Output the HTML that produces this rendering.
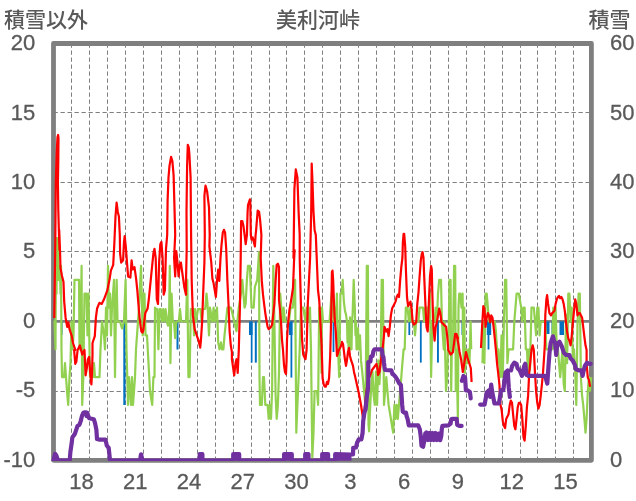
<!DOCTYPE html>
<html><head><meta charset="utf-8"><style>
html,body{margin:0;padding:0;background:#fff;}
svg{display:block;}
text{font-family:"Liberation Sans","Noto Sans CJK JP",sans-serif;font-size:21px;fill:#595959;font-weight:500;}
.n{font-size:22px;font-weight:400;stroke:#595959;stroke-width:0.3px;}
.g{stroke:#7f7f7f;stroke-width:1;stroke-dasharray:4.3 2.7;fill:none;}
.r{stroke:#FF0000;stroke-width:2.2;fill:none;stroke-linejoin:round;}
.gr{stroke:#92D050;stroke-width:2.2;fill:none;stroke-linejoin:round;}
.pu{stroke:#7030A0;stroke-width:4.2;fill:none;stroke-linejoin:round;stroke-linecap:round;}
</style></head><body>
<svg width="636" height="501" viewBox="0 0 636 501">
<defs><clipPath id="cp"><rect x="0" y="0" width="636" height="461"/></clipPath></defs>
<rect width="636" height="501" fill="#fff"/>
<line x1="53.5" y1="112.50" x2="591.4" y2="112.50" class="g"/>
<line x1="53.5" y1="182.50" x2="591.4" y2="182.50" class="g"/>
<line x1="53.5" y1="251.50" x2="591.4" y2="251.50" class="g"/>
<line x1="53.5" y1="391.50" x2="591.4" y2="391.50" class="g"/>
<line x1="71.50" y1="43.5" x2="71.50" y2="460.3" class="g"/>
<line x1="89.50" y1="43.5" x2="89.50" y2="460.3" class="g"/>
<line x1="107.50" y1="43.5" x2="107.50" y2="460.3" class="g"/>
<line x1="125.50" y1="43.5" x2="125.50" y2="460.3" class="g"/>
<line x1="143.50" y1="43.5" x2="143.50" y2="460.3" class="g"/>
<line x1="161.50" y1="43.5" x2="161.50" y2="460.3" class="g"/>
<line x1="179.50" y1="43.5" x2="179.50" y2="460.3" class="g"/>
<line x1="197.50" y1="43.5" x2="197.50" y2="460.3" class="g"/>
<line x1="215.50" y1="43.5" x2="215.50" y2="460.3" class="g"/>
<line x1="233.50" y1="43.5" x2="233.50" y2="460.3" class="g"/>
<line x1="251.50" y1="43.5" x2="251.50" y2="460.3" class="g"/>
<line x1="269.50" y1="43.5" x2="269.50" y2="460.3" class="g"/>
<line x1="286.50" y1="43.5" x2="286.50" y2="460.3" class="g"/>
<line x1="304.50" y1="43.5" x2="304.50" y2="460.3" class="g"/>
<line x1="322.50" y1="43.5" x2="322.50" y2="460.3" class="g"/>
<line x1="340.50" y1="43.5" x2="340.50" y2="460.3" class="g"/>
<line x1="358.50" y1="43.5" x2="358.50" y2="460.3" class="g"/>
<line x1="376.50" y1="43.5" x2="376.50" y2="460.3" class="g"/>
<line x1="394.50" y1="43.5" x2="394.50" y2="460.3" class="g"/>
<line x1="412.50" y1="43.5" x2="412.50" y2="460.3" class="g"/>
<line x1="430.50" y1="43.5" x2="430.50" y2="460.3" class="g"/>
<line x1="448.50" y1="43.5" x2="448.50" y2="460.3" class="g"/>
<line x1="466.50" y1="43.5" x2="466.50" y2="460.3" class="g"/>
<line x1="484.50" y1="43.5" x2="484.50" y2="460.3" class="g"/>
<line x1="502.50" y1="43.5" x2="502.50" y2="460.3" class="g"/>
<line x1="520.50" y1="43.5" x2="520.50" y2="460.3" class="g"/>
<line x1="537.50" y1="43.5" x2="537.50" y2="460.3" class="g"/>
<line x1="555.50" y1="43.5" x2="555.50" y2="460.3" class="g"/>
<line x1="573.50" y1="43.5" x2="573.50" y2="460.3" class="g"/>
<text x="4" y="27">積雪以外</text>
<text x="318" y="27" text-anchor="middle">美利河峠</text>
<text x="588.5" y="27">積雪</text>
<text class="n" x="35.2" y="50.0" text-anchor="end">20</text>
<text class="n" x="35.2" y="119.5" text-anchor="end">15</text>
<text class="n" x="35.2" y="188.9" text-anchor="end">10</text>
<text class="n" x="35.2" y="258.4" text-anchor="end">5</text>
<text class="n" x="35.2" y="327.9" text-anchor="end">0</text>
<text class="n" x="35.2" y="397.3" text-anchor="end">-5</text>
<text class="n" x="35.2" y="466.8" text-anchor="end">-10</text>
<text class="n" x="610" y="50.0">60</text>
<text class="n" x="610" y="119.5">50</text>
<text class="n" x="610" y="188.9">40</text>
<text class="n" x="610" y="258.4">30</text>
<text class="n" x="610" y="327.9">20</text>
<text class="n" x="610" y="397.3">10</text>
<text class="n" x="610" y="466.8">0</text>
<text class="n" x="81.4" y="488.8" text-anchor="middle">18</text>
<text class="n" x="135.2" y="488.8" text-anchor="middle">21</text>
<text class="n" x="189.0" y="488.8" text-anchor="middle">24</text>
<text class="n" x="242.8" y="488.8" text-anchor="middle">27</text>
<text class="n" x="296.6" y="488.8" text-anchor="middle">30</text>
<text class="n" x="350.3" y="488.8" text-anchor="middle">3</text>
<text class="n" x="404.1" y="488.8" text-anchor="middle">6</text>
<text class="n" x="457.9" y="488.8" text-anchor="middle">9</text>
<text class="n" x="511.7" y="488.8" text-anchor="middle">12</text>
<text class="n" x="565.5" y="488.8" text-anchor="middle">15</text>
<rect x="53.5" y="43.5" width="537.9" height="416.8" fill="none" stroke="#7f7f7f" stroke-width="4.8" stroke-linejoin="round"/>
<line x1="53.5" y1="321.3" x2="591.4" y2="321.3" stroke="#7f7f7f" stroke-width="2.8"/>
<rect x="61" y="321.4" width="1.5" height="13.6" fill="#0070C0"/>
<rect x="79.2" y="321.4" width="1.4" height="13.6" fill="#0070C0"/>
<rect x="123.3" y="321.4" width="2.2" height="83.6" fill="#0070C0"/>
<rect x="176.5" y="321.4" width="2.0" height="28.1" fill="#0070C0"/>
<rect x="249" y="321.4" width="3.5" height="13.6" fill="#0070C0"/>
<rect x="250.8" y="321.4" width="1.7" height="41.2" fill="#0070C0"/>
<rect x="254.8" y="321.4" width="2.0" height="41.2" fill="#0070C0"/>
<rect x="289" y="321.4" width="3.5" height="13.6" fill="#0070C0"/>
<rect x="290.5" y="321.4" width="1.8" height="56.2" fill="#0070C0"/>
<rect x="332.6" y="321.4" width="1.8" height="30.6" fill="#0070C0"/>
<rect x="408.4" y="321.4" width="1.8" height="13.6" fill="#0070C0"/>
<rect x="419.9" y="321.4" width="1.8" height="41.2" fill="#0070C0"/>
<rect x="437" y="321.4" width="1.9" height="41.2" fill="#0070C0"/>
<rect x="461.5" y="321.4" width="3.3" height="13.6" fill="#0070C0"/>
<rect x="486.8" y="321.4" width="4.4" height="13.6" fill="#0070C0"/>
<rect x="487.6" y="321.4" width="1.8" height="28.1" fill="#0070C0"/>
<rect x="546" y="321.4" width="3.5" height="12.6" fill="#0070C0"/>
<rect x="551.5" y="321.4" width="1.5" height="12.6" fill="#0070C0"/>
<rect x="559.5" y="321.4" width="4.5" height="13.6" fill="#0070C0"/>
<polyline points="53.5,321.5 54.5,321.5 55.5,349.3 56.0,238.1 56.5,293.7 57.0,238.1 58.0,238.1 58.5,279.8 59.0,265.9 60.0,265.9 60.5,293.7 61.0,265.9 61.5,349.3 62.0,377.1 64.0,377.1 65.0,363.2 66.0,377.1 67.0,391.0 68.2,404.9 69.5,377.1 70.5,363.2 71.5,321.5 72.5,349.3 73.5,335.4 74.5,279.8 79.0,279.8 79.5,349.3 80.5,335.4 81.6,265.9 82.2,404.9 83.3,377.1 84.5,293.7 86.5,293.7 87.5,335.4 88.5,293.7 90.0,377.1 91.5,377.1 93.0,377.1 94.0,363.2 95.0,377.1 99.5,377.1 100.5,349.3 102.0,321.5 104.0,335.4 105.0,349.3 106.0,307.6 107.0,335.4 108.0,265.9 109.0,307.6 110.0,293.7 111.0,335.4 112.0,307.6 113.0,293.7 114.0,279.8 115.0,377.1 116.0,307.6 116.7,279.8 117.5,321.5 119.0,321.5 120.0,321.5 122.0,328.4 124.0,321.5 125.6,279.8 126.5,349.3 128.0,404.9 129.0,377.1 130.0,391.0 131.0,404.9 132.0,377.1 133.0,404.9 134.0,391.0 135.0,377.1 136.0,349.3 137.0,335.4 139.0,307.6 141.0,265.9 142.7,335.4 143.6,293.7 144.5,293.7 145.5,335.4 147.0,335.4 148.5,363.2 150.0,391.0 152.2,404.9 153.4,377.1 154.5,377.1 155.0,307.6 156.0,309.0 157.2,309.0 158.4,349.3 159.6,309.0 160.8,309.0 162.0,321.5 163.2,309.0 164.4,321.5 165.6,309.0 166.8,321.5 168.0,325.7 169.2,309.0 169.8,265.9 170.4,363.2 171.6,293.7 172.8,321.5 174.0,321.5 175.2,338.2 176.4,321.5 178.8,321.5 180.0,309.0 181.2,321.5 186.0,321.5 187.3,279.8 188.4,377.1 189.6,377.1 190.8,309.0 193.2,309.0 194.0,335.4 195.0,309.0 196.0,321.5 198.0,309.0 200.4,309.0 201.6,321.5 202.8,309.0 205.2,309.0 206.5,293.7 207.5,303.4 209.0,335.4 210.0,307.6 212.4,321.5 213.6,307.6 214.7,321.5 217.0,307.6 218.2,342.4 219.5,349.3 221.0,342.4 222.0,349.3 223.4,349.3 224.5,335.4 226.0,321.5 227.4,307.6 230.8,307.6 232.0,311.8 234.2,321.5 236.5,331.2 238.8,307.6 241.0,293.7 242.3,279.8 243.4,293.7 244.6,307.6 245.7,303.4 246.9,279.8 248.0,265.9 249.9,265.9 251.5,307.6 253.7,307.6 254.9,286.8 257.2,279.8 259.0,252.0 259.5,377.1 260.0,404.9 261.8,404.9 263.0,377.1 264.0,377.1 265.3,404.9 267.6,404.9 268.7,418.8 269.9,404.9 271.0,418.8 272.1,391.0 273.3,265.9 274.4,321.5 275.6,395.2 276.7,418.8 277.9,404.9 279.0,372.9 280.2,293.7 281.3,307.6 282.5,321.5 283.6,307.6 285.0,321.5 287.0,321.5 289.0,321.5 290.5,307.6 292.8,307.6 294.0,293.7 295.1,279.8 296.3,432.7 297.4,404.9 298.6,377.1 299.7,349.3 300.9,307.6 303.2,307.6 305.5,321.5 306.6,307.6 307.8,321.5 310.0,307.6 311.0,349.3 312.3,457.7 313.5,432.7 314.6,391.0 317.0,391.0 318.1,404.9 319.2,307.6 320.3,307.6 321.5,372.9 322.0,307.6 323.0,321.5 327.7,321.5 329.5,321.5 331.2,297.9 332.3,288.1 333.5,321.5 334.6,307.6 335.8,321.5 336.9,293.7 338.0,349.3 339.2,377.1 340.4,293.7 341.5,293.7 342.7,279.8 343.8,300.6 344.9,310.4 346.0,314.6 347.0,321.5 347.5,342.4 348.0,321.5 348.5,349.3 349.0,321.5 349.5,349.3 350.0,317.3 350.5,349.3 351.0,321.5 351.5,349.3 352.0,321.5 352.6,314.6 353.7,279.8 354.8,307.6 355.5,335.4 356.0,321.5 356.5,349.3 357.0,328.4 357.5,349.3 358.0,328.4 358.8,349.3 360.0,335.4 361.0,360.4 362.2,371.5 363.4,384.1 365.6,406.3 366.8,265.9 367.9,265.9 368.5,424.4 369.1,431.3 370.2,406.3 371.4,384.1 372.5,371.5 373.6,395.2 374.8,404.9 376.0,371.5 377.1,404.9 378.3,360.4 379.4,384.1 380.6,363.2 381.7,279.8 382.9,279.8 384.0,404.9 386.3,377.1 388.6,404.9 390.9,418.8 392.0,425.8 393.2,432.7 394.4,404.9 395.5,418.8 396.7,404.9 397.8,418.8 399.0,404.9 400.1,391.0 401.3,377.1 402.4,363.2 403.6,349.3 404.7,349.3 405.8,307.6 407.5,307.6 408.9,321.5 410.4,307.6 411.5,321.5 413.9,321.5 415.0,335.4 416.2,321.5 418.4,321.5 419.6,307.6 423.0,307.6 424.1,321.5 425.4,307.6 427.7,307.6 428.8,321.5 430.0,293.7 431.1,377.1 432.3,321.5 434.6,321.5 435.7,307.6 436.9,321.5 438.0,293.7 439.2,279.8 441.0,279.8 441.9,321.5 443.8,349.3 444.5,321.5 446.0,391.0 447.2,377.1 447.9,349.3 448.4,349.3 449.5,279.8 450.6,279.8 451.2,391.0 451.8,349.3 452.9,349.3 454.1,265.9 455.2,265.9 455.8,391.0 456.4,349.3 457.9,418.8 458.5,307.6 459.2,293.7 460.3,293.7 461.5,307.6 462.6,293.7 463.2,349.3 463.7,363.2 464.3,307.6 464.9,372.9 466.0,349.3 467.2,363.2 468.3,349.3 469.5,363.2 470.6,321.5 471.2,349.3" class="gr"/><polyline points="482.5,363.2 483.3,321.5 484.4,363.2 485.6,293.7 486.7,293.7 487.9,307.6 489.0,321.5 491.3,321.5 494.8,321.5 495.9,331.2 497.0,349.3 498.0,363.2 498.5,349.3 499.4,363.2 500.5,377.1 501.5,335.4 502.8,377.1 503.9,321.5 505.1,279.8 506.2,279.8 507.4,363.2 508.5,349.3 510.0,349.3 513.1,349.3 514.3,321.5 516.6,293.7 518.9,293.7 520.0,300.6 521.2,307.6 522.3,321.5 523.5,307.6 524.6,307.6 525.8,349.3 527.0,349.3 528.1,377.1 529.2,349.3 530.0,370.1 530.4,349.3 531.5,307.6 533.8,307.6 535.0,321.5 536.1,335.4 537.3,307.6 538.4,307.6 539.6,335.4 540.7,321.5 544.1,321.5 545.2,321.5 546.4,349.3 549.0,349.3 552.2,349.3 553.3,307.6 554.5,349.3 555.6,307.6 556.8,349.3 558.0,349.3 559.0,363.2 560.2,377.1 561.4,363.2 562.5,349.3 563.7,384.1 564.8,391.0 566.0,314.6 567.1,363.2 568.3,293.7 569.4,293.7 570.6,321.5 571.7,307.6 572.9,363.2 574.0,349.3 575.2,371.5 576.3,404.9 577.5,325.7 578.6,293.7 579.8,293.7 580.9,377.1 582.0,395.2 583.2,404.9 584.4,418.8 585.5,432.7 586.6,418.8 587.8,391.0 588.9,377.1 590.0,391.0 591.2,377.1" class="gr"/>
<polyline points="54.3,318.0 54.8,280.0 55.3,240.0 55.8,182.0 56.8,150.0 57.5,137.0 58.1,135.0 58.5,138.0 58.3,160.0 57.9,182.0 58.3,210.0 58.9,232.0 59.5,250.0 59.2,230.0 60.0,250.0 60.5,268.0 62.0,276.0 63.5,282.0 64.2,301.6 65.6,317.7 67.2,326.9 68.4,322.3 69.5,329.2 71.8,336.1 73.0,343.0 75.3,349.9 74.1,350.0 75.3,363.8 76.4,361.5 77.6,350.0 79.9,345.4 82.2,354.6 84.5,350.0 85.6,375.3 86.8,368.4 87.9,359.2 89.1,356.9 90.2,373.0 91.4,384.5 92.0,373.0 92.5,354.6 92.5,343.0 94.8,336.1 95.9,317.7 97.1,308.5 99.4,302.8 101.7,303.9 104.0,299.3 107.4,290.1 109.7,278.6 110.9,270.6 113.2,264.9 114.3,244.2 115.5,216.5 116.6,202.7 117.8,211.9 118.9,216.5 119.8,234.9 120.1,253.4 121.2,262.6 123.1,260.3 124.0,241.9 124.7,236.1 125.8,246.5 127.0,262.6 128.1,276.4 130.4,277.5 131.6,260.3 132.7,269.5 134.5,267.2 136.1,278.6 137.3,290.1 138.4,303.9 139.6,317.7 140.7,326.9 141.4,331.5 142.4,332.6 143.3,330.3 144.2,322.3 145.3,313.1 146.5,310.8 147.6,308.5 148.8,299.3 151.1,276.4 153.4,253.4 154.5,248.8 155.7,258.0 156.8,299.3 158.0,303.9 159.1,262.6 160.3,244.2 161.4,241.9 162.6,258.0 163.7,294.7 164.9,290.1 166.0,248.8 167.2,235.0 167.6,200.4 168.5,177.4 169.5,165.9 171.1,156.8 172.4,161.4 173.6,175.1 174.3,200.4 175.2,234.9 174.1,258.0 175.2,276.4 176.3,251.1 177.5,262.6 178.6,276.4 179.8,264.9 180.9,262.6 182.8,276.4 184.4,287.8 186.0,294.7 186.0,280.9 186.7,248.8 186.5,211.9 187.1,165.9 187.8,144.8 188.8,147.6 189.4,154.5 190.6,177.4 191.1,234.9 191.7,280.9 192.9,315.4 194.7,329.2 197.0,336.1 198.6,340.7 200.2,347.6 200.9,340.7 202.1,322.3 203.2,292.4 204.4,262.6 204.8,235.0 204.4,195.8 205.5,185.5 207.1,191.2 209.0,207.3 209.7,234.9 209.4,246.5 211.3,262.6 212.4,278.6 213.6,283.2 214.7,290.1 215.9,297.0 217.0,280.9 218.2,269.5 219.3,280.9 220.5,258.0 221.6,244.2 222.8,232.7 223.9,229.8 225.1,232.6 226.2,248.8 227.4,280.9 228.5,303.9 229.6,331.5 230.8,345.3 231.9,352.2 231.9,359.2 234.2,375.3 235.4,363.8 236.5,359.2 237.7,373.0 238.8,350.0 240.0,303.9 240.7,258.0 241.1,221.1 242.3,221.1 243.4,225.7 244.6,234.9 245.7,244.2 246.9,235.0 247.6,211.9 248.0,205.0 249.9,199.3 250.3,202.7 250.8,234.9 251.5,239.6 252.6,237.3 253.8,241.9 254.9,246.5 255.6,235.0 256.1,230.3 257.7,210.7 259.1,211.9 260.0,218.8 261.4,234.9 260.7,258.0 261.8,280.9 263.0,294.7 264.1,303.9 265.3,313.1 266.4,320.0 267.6,326.9 268.7,329.2 271.0,326.9 272.1,324.6 274.4,303.9 275.6,280.9 276.7,264.9 277.9,263.7 279.0,267.2 279.0,300.0 280.0,310.0 281.0,322.0 282.0,340.0 283.0,350.0 284.0,365.0 285.0,372.0 286.0,374.0 286.6,360.0 287.0,340.0 287.6,330.0 288.4,320.0 289.4,310.0 290.5,304.0 291.5,298.0 293.0,288.0 294.0,262.0 294.6,250.0 293.5,258.0 294.4,188.9 295.8,169.4 297.4,177.4 298.6,211.9 299.7,234.9 299.7,258.0 300.9,303.9 302.0,338.4 303.2,354.5 304.3,356.9 305.5,359.2 306.6,350.0 307.8,303.9 310.1,258.0 311.2,211.9 311.7,163.6 312.3,177.4 313.5,211.9 314.6,230.3 315.8,234.9 318.0,290.0 319.3,301.0 320.4,323.0 321.6,345.0 322.6,378.0 323.7,384.5 324.8,386.6 325.9,386.6 327.0,381.8 328.0,384.0 329.1,377.8 330.2,355.9 331.3,312.0 331.9,272.0 332.5,270.6 333.2,281.0 334.0,304.0 334.6,317.7 335.8,331.5 337.0,355.9 339.0,349.9 341.0,345.9 342.0,341.9 343.0,343.9 344.0,351.9 345.0,359.9 346.0,365.9 347.0,359.9 348.0,351.9 349.0,347.9 350.0,355.9 351.0,359.9 353.0,365.9 354.0,371.9 355.0,376.0 357.0,385.0 359.0,394.0 361.0,405.0 363.0,418.0 364.0,414.0 366.0,395.0 368.0,380.0 370.0,376.0 372.0,370.0 375.0,366.0 376.5,364.0 377.5,368.0 378.0,375.0 379.5,372.0 381.0,360.0 383.0,345.0 384.0,335.0 384.5,326.9 386.3,331.5 387.5,329.2 388.6,336.1 389.8,326.9 390.9,315.4 392.1,308.5 394.4,303.9 395.5,301.6 396.7,297.0 397.8,294.7 399.0,297.0 400.1,280.9 401.3,267.2 402.4,258.0 402.9,241.9 403.6,233.9 404.2,233.9 405.2,246.5 405.9,269.5 407.0,297.0 408.1,306.2 409.3,303.9 410.4,301.6 411.6,308.5 412.7,322.3 413.9,324.6 416.2,322.3 417.3,303.9 418.5,292.4 419.6,276.4 420.8,260.3 421.9,253.4 422.6,252.2 423.5,258.0 424.2,276.4 425.4,303.9 426.5,326.9 427.7,331.5 428.8,303.9 430.0,276.4 431.1,266.0 431.8,269.5 432.3,292.4 433.4,326.9 434.6,340.7 435.7,326.9 436.9,322.3 438.0,315.4 439.2,308.5 440.3,313.1 441.5,322.3 443.8,324.6 446.1,326.9 447.2,336.1 448.3,349.9 449.5,352.3 450.6,354.6 452.9,352.3 455.2,333.8 458.0,338.4 456.4,334.0 458.0,342.0 459.6,352.0 461.2,360.0 462.8,372.0 464.0,365.0 466.0,352.0 467.6,358.0 469.2,363.0 470.8,368.0 471.6,382.0" class="r"/>
<polyline points="481.0,348.0 482.1,326.9 483.3,306.2 484.4,308.5 485.6,326.9 486.7,317.7 487.9,313.1 489.0,315.4 490.2,322.3 491.3,315.4 492.5,317.7 493.6,326.9 494.8,338.4 495.9,349.9 497.1,363.8 498.2,373.0 499.4,384.5 500.5,405.1 501.6,409.7 502.8,421.2 503.9,425.8 505.1,428.1 506.2,418.9 507.4,416.6 508.5,414.3 509.7,405.1 510.8,400.5 512.0,402.8 513.1,414.3 514.3,425.8 515.4,429.3 516.6,418.9 517.7,407.4 518.9,402.8 520.0,402.8 521.2,405.1 522.3,418.9 523.5,437.3 524.6,440.7 525.8,425.8 526.9,407.4 528.1,395.9 529.2,373.0 530.4,361.5 531.5,350.0 531.5,349.9 532.7,345.3 533.8,349.9 535.0,373.0 536.1,391.4 537.3,402.8 538.4,408.6 539.6,405.1 540.7,395.9 541.9,384.5 543.0,373.0 544.1,356.9 544.8,345.4 545.3,315.4 546.4,299.3 547.1,295.2 548.1,303.9 549.4,313.1 551.0,315.4 552.2,313.1 554.5,310.8 555.6,303.9 556.8,299.3 557.9,297.0 559.1,295.9 560.2,298.2 561.4,297.0 562.5,299.3 563.7,303.9 564.8,310.8 566.0,322.3 567.1,331.5 568.3,338.4 569.4,340.7 570.6,345.3 571.7,336.1 572.9,322.3 574.0,310.8 575.2,299.3 576.3,303.9 577.5,315.4 578.6,313.1 579.8,313.1 582.1,317.7 583.2,326.9 584.3,336.1 585.5,345.3 586.6,349.9 586.6,363.8 587.8,377.6 588.9,379.9 590.1,386.8" class="r"/>
<g clip-path="url(#cp)"><polyline points="53.4,460.7 55.1,453.8 56.4,455.7 58.0,460.7 69.7,460.7 70.4,451.9 71.7,442.9 72.3,437.7 73.6,435.7 74.9,433.8 76.2,429.9 77.5,426.0 79.5,424.7 80.8,420.8 82.1,415.6 83.4,412.7 84.7,412.3 86.0,412.3 86.6,416.2 87.3,412.7 87.9,414.9 89.2,418.2 93.8,419.2 95.1,423.4 96.4,429.9 97.0,439.0 99.0,439.6 105.5,439.6 106.8,445.5 108.7,448.1 109.4,454.5 110.0,460.7 140.0,460.7 141.0,454.3 141.2,454.3 142.2,460.7 199.7,460.7 199.7,454.2 202.4,454.2 202.4,460.7 233.2,460.7 233.2,454.2 239.2,454.2 239.2,460.7 284.1,460.7 284.1,454.2 291.8,454.2 291.8,460.7 305.2,460.7 305.2,454.2 308.5,454.2 308.5,460.7 322.2,460.7 322.2,454.2 328.1,454.2 328.1,460.7 335.2,460.7 335.2,454.2 350.3,454.5 353.0,454.5 353.2,447.8 356.0,447.5 357.1,442.7 358.8,439.3 361.4,439.3 362.6,433.0 363.2,421.0 364.4,412.6 365.6,409.0 366.8,397.0 368.0,388.6 368.3,380.0 368.3,362.0 370.4,361.5 371.0,356.5 372.5,356.0 373.5,351.0 374.5,349.3 381.4,349.3 382.0,350.0 382.5,355.0 383.4,357.0 384.0,363.0 384.5,367.0 385.0,370.0 391.4,370.4 392.4,374.0 394.4,375.4 396.0,377.5 397.5,380.0 399.0,383.0 400.9,385.0 401.3,391.4 402.2,405.0 402.8,411.6 404.4,412.7 406.0,412.7 406.6,416.0 407.7,419.3 408.8,425.4 418.2,425.4 419.8,429.2 420.4,433.6 420.9,438.0 421.5,445.7 423.1,446.8 424.2,441.3 425.3,433.6 426.4,432.5 428.0,440.0 429.5,433.0 431.0,440.0 432.5,433.0 434.0,440.0 435.5,433.0 437.0,440.0 438.5,433.6 439.6,438.0 440.2,440.2 441.3,435.8 441.8,429.2 442.4,425.9 448.4,425.4 450.6,423.7 451.2,419.3 452.8,418.8 456.7,418.8 457.2,424.8 459.4,425.9 461.6,425.9" class="pu"/>
<polyline points="461.9,380.8 463.5,376.0 465.1,377.6 465.9,390.3 467.5,390.3 469.9,391.9 470.7,398.3" class="pu"/>
<polyline points="480.2,404.6 484.6,404.6 486.8,392.5 489.0,390.2 490.1,396.9 491.2,384.7 492.3,392.5 494.5,403.5 498.9,403.5 500.0,396.9 501.1,390.2 503.3,390.2 505.5,372.6 507.7,370.4 508.8,388.0 509.9,396.9" class="pu"/>
<polyline points="511.0,370.4 512.1,366.0 514.3,362.7 516.5,363.8 517.6,368.2 519.8,370.4 522.0,375.9 524.2,366.0 525.3,363.8 526.4,374.8 528.6,375.9 545.1,375.9 547.3,383.6 548.5,366.0 549.5,352.8 550.7,342.9 552.9,336.3 554.0,340.7 555.1,342.9 556.2,355.0 557.3,344.0 559.5,341.8 561.7,346.2 563.9,352.8 566.1,355.0 569.4,355.0 570.5,358.3 572.7,360.5 574.9,364.9 576.0,369.3 579.3,370.4 581.5,370.4 582.6,375.9 583.7,370.4 584.8,366.0 587.0,362.7 589.2,363.8 590.7,363.8" class="pu"/><rect x="199.7" y="454.2" width="2.7" height="6.5" fill="#7030A0"/><rect x="233.2" y="454.2" width="6.0" height="6.5" fill="#7030A0"/><rect x="284.1" y="454.2" width="7.7" height="6.5" fill="#7030A0"/><rect x="305.2" y="454.2" width="3.3" height="6.5" fill="#7030A0"/><rect x="322.2" y="454.2" width="5.9" height="6.5" fill="#7030A0"/><rect x="335.2" y="454.2" width="16.3" height="6.5" fill="#7030A0"/></g>
</svg>
</body></html>
